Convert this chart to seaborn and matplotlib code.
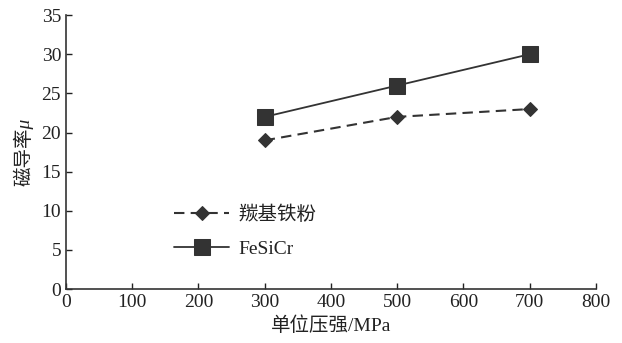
import matplotlib
matplotlib.use("Agg")
import matplotlib.pyplot as plt
import seaborn as sns
import pandas as pd

pressure = [300, 500, 700]
carbonyl = [19, 22, 23]
fesicr = [22, 26, 30]
series_names = ["羰基铁粉", "FeSiCr"]
x_ticks = [0, 100, 200, 300, 400, 500, 600, 700, 800]
y_ticks = [0, 5, 10, 15, 20, 25, 30, 35]

df = pd.DataFrame({
    "x": pressure * 2,
    "y": carbonyl + fesicr,
    "s": [series_names[0]] * 3 + [series_names[1]] * 3,
})

sns.set_style("ticks")
plt.rcParams['font.family'] = ['Liberation Serif', 'Noto Sans CJK SC']
fam = ['Liberation Serif', 'Noto Sans CJK SC']

fig = plt.figure(figsize=(6.22, 3.43), dpi=100)
ax = fig.add_axes([0.106, 0.157, 0.852, 0.799])
col = "#333333"

sns.lineplot(data=df[df.s == series_names[0]], x="x", y="y", ax=ax, color=col,
             linestyle=(0, (5, 3)), marker="D", markersize=7, markeredgecolor=col,
             lw=1.5, label=series_names[0])
sns.lineplot(data=df[df.s == series_names[1]], x="x", y="y", ax=ax, color=col,
             linestyle="-", marker="s", markersize=11, markeredgecolor=col,
             lw=1.3, label=series_names[1])

ax.set_xlim(0, 800)
ax.set_ylim(0, 35)
ax.set_xticks(x_ticks)
ax.set_yticks(y_ticks)
ax.tick_params(direction="in", length=4, width=1, labelsize=14, colors="#222222")
for lab in ax.get_xticklabels() + ax.get_yticklabels():
    lab.set_fontfamily('Liberation Serif')
for sp in ["top", "right"]:
    ax.spines[sp].set_visible(False)
for sp in ["left", "bottom"]:
    ax.spines[sp].set_color("#333333")
    ax.spines[sp].set_linewidth(1.2)

ax.set_xlabel("单位压强/MPa", fontsize=14, family=fam, labelpad=4, color="#222222")
ax.set_ylabel("磁导率μ", fontsize=14, family=fam, style="italic", labelpad=6,
              color="#222222")

leg = ax.legend(loc="upper left", bbox_to_anchor=(0.19, 0.335), frameon=False,
                fontsize=14, handlelength=2.8, handletextpad=0.5,
                labelspacing=0.85, borderaxespad=0)
for t in leg.get_texts():
    t.set_family(fam)
    t.set_color("#222222")

fig.savefig("out.png", dpi=100)
